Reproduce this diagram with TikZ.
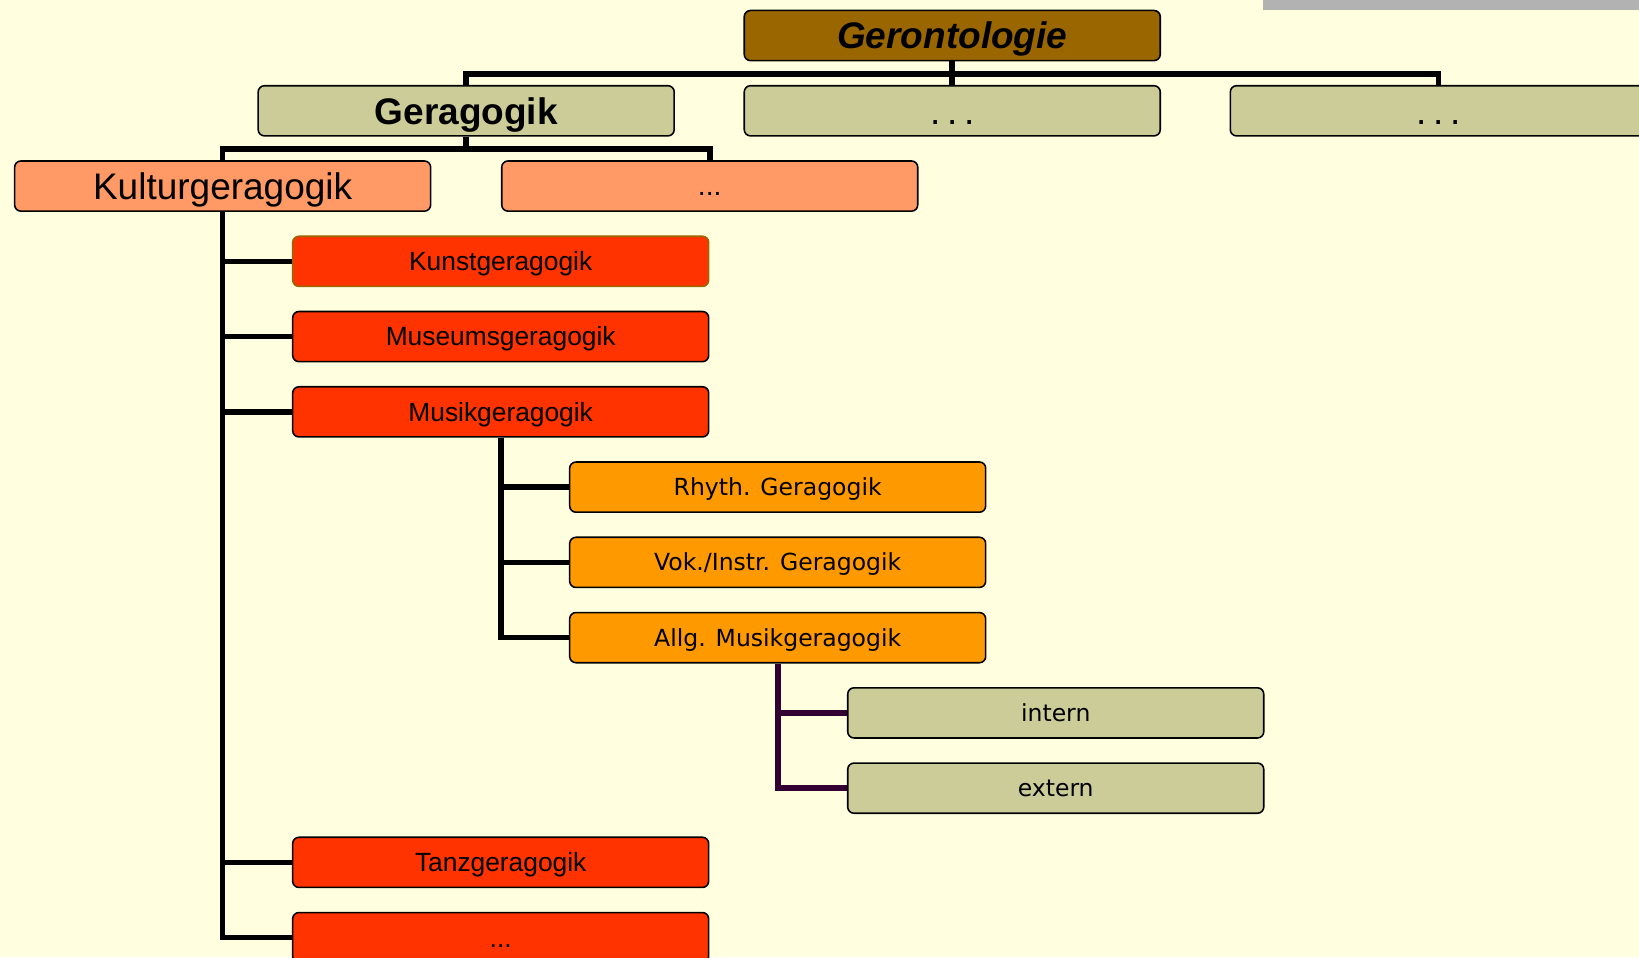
\documentclass[tikz,border=0pt]{standalone}
\usepackage{fontspec}
\setmainfont{Liberation Sans}
\newfontfamily\dvfont{DejaVu Sans}
\definecolor{bgc}{HTML}{FFFFE0}
\definecolor{geronc}{HTML}{996600}
\definecolor{olivec}{HTML}{CCCC99}
\definecolor{salmonc}{HTML}{FF9966}
\definecolor{redc}{HTML}{FF3300}
\definecolor{orangec}{HTML}{FF9900}
\definecolor{grayc}{HTML}{B2B2B2}
\definecolor{purpc}{HTML}{330033}
\tikzset{
  box/.style={draw=black, line width=0.75pt, rounded corners=3pt, minimum width=199pt, minimum height=24pt, inner sep=0pt, text depth=0pt, align=center},
  big/.style={font=\fontsize{17.7pt}{20pt}\selectfont, text height=12.7pt},
  mid/.style={font=\fontsize{12.6pt}{15pt}\selectfont, text height=9pt},
  dv/.style={font=\dvfont\fontsize{11.25pt}{14pt}\selectfont, text height=8.2pt},
  conn/.style={draw=black, line width=2.7pt},
}
\begin{document}
\begin{tikzpicture}[x=0.5pt, y=-0.5pt]
\fill[bgc] (0,0) rectangle (1568,916);
\useasboundingbox (0,0) rectangle (1568,916);
\clip (0,0) rectangle (1568,916);
\fill[grayc] (1208,0) rectangle (1568,10);
% nodes
\node[box, big, fill=geronc] (geron) at (911,34) {\textbf{\textit{Gerontologie}}};
\node[box, big, fill=olivec] (gera) at (446,106) {\textbf{Geragogik}};
\node[box, big, fill=olivec] (d1) at (911,106) {.\hspace{0.18em}.\hspace{0.18em}.};
\node[box, big, fill=olivec] (d2) at (1376,106) {.\hspace{0.18em}.\hspace{0.18em}.};
\node[box, big, fill=salmonc] (kultur) at (213,178) {Kulturgeragogik};
\node[box, mid, fill=salmonc, font=\fontsize{13.5pt}{16pt}\selectfont] (d3) at (679,178) {...};
\node[box, mid, fill=redc, draw=geronc] (kunst) at (479,250) {Kunstgeragogik};
\node[box, mid, fill=redc] (museum) at (479,322) {Museumsgeragogik};
\node[box, mid, fill=redc] (musik) at (479,394) {Musikgeragogik};
\node[box, mid, fill=redc] (tanz) at (479,825) {Tanzgeragogik};
\node[box, mid, fill=redc] (d4) at (479,897) {...};
\node[box, dv, fill=orangec] (rhyth) at (744,466) {Rhyth. Geragogik};
\node[box, dv, fill=orangec] (vok) at (744,538) {Vok./Instr. Geragogik};
\node[box, dv, fill=orangec] (allg) at (744,610) {Allg. Musikgeragogik};
\node[box, dv, fill=olivec] (intern) at (1010,682) {intern};
\node[box, dv, fill=olivec] (extern) at (1010,754) {extern};
% connectors
\draw[conn] (geron.south) -- ++(0,12) -| (gera.north);
\draw[conn] (geron.south) -- ++(0,12) -| (d2.north);
\draw[conn] (geron.south) -- (d1.north);
\draw[conn] (gera.south) -- ++(0,12) -| (kultur.north);
\draw[conn] (gera.south) -- ++(0,12) -| (d3.north);
\draw[conn] (kultur.south) |- (kunst.west);
\draw[conn] (kultur.south) |- (museum.west);
\draw[conn] (kultur.south) |- (musik.west);
\draw[conn] (kultur.south) |- (tanz.west);
\draw[conn] (kultur.south) |- (d4.west);
\draw[conn] (musik.south) |- (rhyth.west);
\draw[conn] (musik.south) |- (vok.west);
\draw[conn] (musik.south) |- (allg.west);
\draw[conn, draw=purpc] (allg.south) |- (intern.west);
\draw[conn, draw=purpc] (allg.south) |- (extern.west);
\end{tikzpicture}
\end{document}
